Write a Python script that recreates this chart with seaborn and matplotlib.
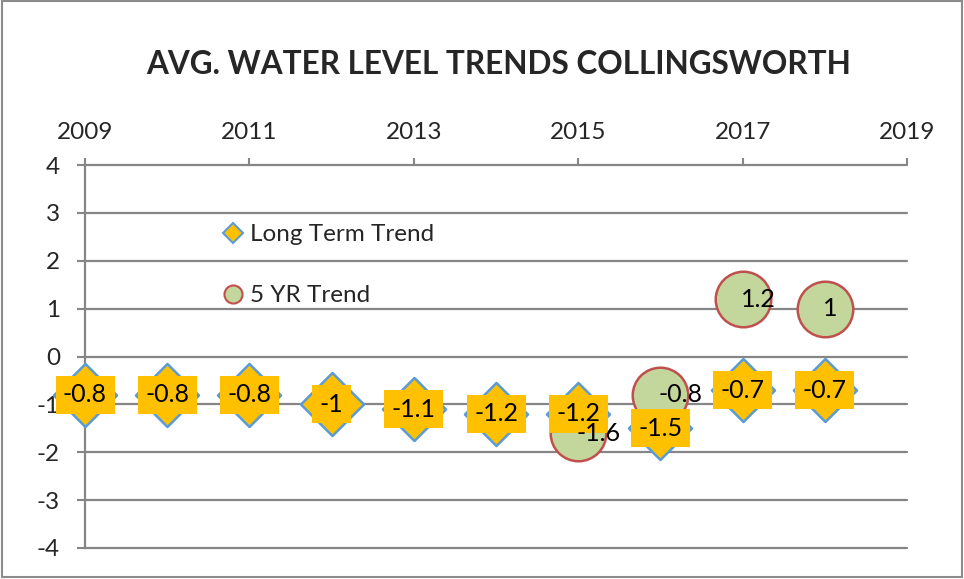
import pandas as pd
import seaborn as sns
import matplotlib.pyplot as plt
from matplotlib.lines import Line2D
from matplotlib.patches import Rectangle

# data
years = [2009, 2010, 2011, 2012, 2013, 2014, 2015, 2016, 2017, 2018]
long_term = [-0.8, -0.8, -0.8, -1.0, -1.1, -1.2, -1.2, -1.5, -0.7, -0.7]
five_yr_years = [2015, 2016, 2017, 2018]
five_yr = [-1.6, -0.8, 1.2, 1.0]

GOLD = '#FFC000'
BLUE = '#5B9BD5'
GREEN = '#C3D69B'
RED = '#C0504D'
GRID = '#868686'

lt = pd.DataFrame({'Year': years, 'Trend': long_term})
fy = pd.DataFrame({'Year': five_yr_years, 'Trend': five_yr})

sns.set_style('white')
plt.rcParams['font.family'] = ['Lato', 'DejaVu Sans']
plt.rcParams['axes.unicode_minus'] = False

fig = plt.figure(figsize=(9.64, 5.79), dpi=100)
ax = fig.add_axes([85 / 964, 1 - 548 / 579, 822 / 964, 383 / 579])

# gridlines first
for v in range(-4, 5):
    ax.axhline(v, color=GRID, lw=1.6, zorder=1, clip_on=False)

sns.scatterplot(data=lt, x='Year', y='Trend', marker='D', s=1030,
                color=GOLD, edgecolor=BLUE, linewidth=1.8, ax=ax,
                zorder=3, clip_on=False, legend=False)
sns.scatterplot(data=fy, x='Year', y='Trend', marker='o', s=1600,
                color=GREEN, edgecolor=RED, linewidth=1.8, ax=ax,
                zorder=4, clip_on=False, legend=False)

# data labels
for x, y in zip(years, long_term):
    ax.text(x, y, f'{y:g}', ha='center', va='center', fontsize=18,
            color='black', zorder=5,
            bbox=dict(boxstyle='square,pad=0.3', fc=GOLD, ec='none'))
for x, y in zip(five_yr_years, five_yr):
    ax.annotate(f'{y:g}', (x, y), xytext=(-2, 0), textcoords='offset pixels',
                ha='left', va='center', fontsize=18, color='black', zorder=6)

ax.set_xlim(2009, 2019)
ax.set_ylim(-4, 4)
ax.set_xticks(range(2009, 2020, 2))
ax.set_yticks(range(-4, 5))
ax.xaxis.tick_top()
ax.tick_params(axis='x', direction='out', length=5, width=1.5, color=GRID,
               pad=11, labelsize=17.5)
ax.tick_params(axis='y', direction='out', length=6, width=1.5, color=GRID,
               pad=12, labelsize=17.5, left=True)
for side in ['top', 'right', 'bottom']:
    ax.spines[side].set_visible(False)
ax.spines['left'].set_color(GRID)
ax.spines['left'].set_linewidth(1.6)
ax.set_xlabel('')
ax.set_ylabel('')

handles = [
    Line2D([], [], ls='none', marker='D', markersize=10, markerfacecolor=GOLD,
           markeredgecolor=BLUE, markeredgewidth=1.5, label='Long Term Trend'),
    Line2D([], [], ls='none', marker='o', markersize=13, markerfacecolor=GREEN,
           markeredgecolor=RED, markeredgewidth=1.5, label='5 YR Trend'),
]
ax.legend(handles=handles, loc='upper left', bbox_to_anchor=(0.168, 0.845),
          frameon=False, fontsize=17.5, labelspacing=1.65, handlelength=0.8,
          handletextpad=0.3, borderpad=0, borderaxespad=0)

fig.text(499 / 964, 1 - 64 / 579, 'AVG. WATER LEVEL TRENDS COLLINGSWORTH',
         ha='center', va='center', fontsize=22.7, fontweight='bold')

# chart border
fig.patches.append(Rectangle((2 / 964, 2 / 579), 960 / 964, 576 / 579,
                             transform=fig.transFigure, fill=False,
                             ec='#8C8C8C', lw=1.5))

fig.savefig('out.png', dpi=100)
